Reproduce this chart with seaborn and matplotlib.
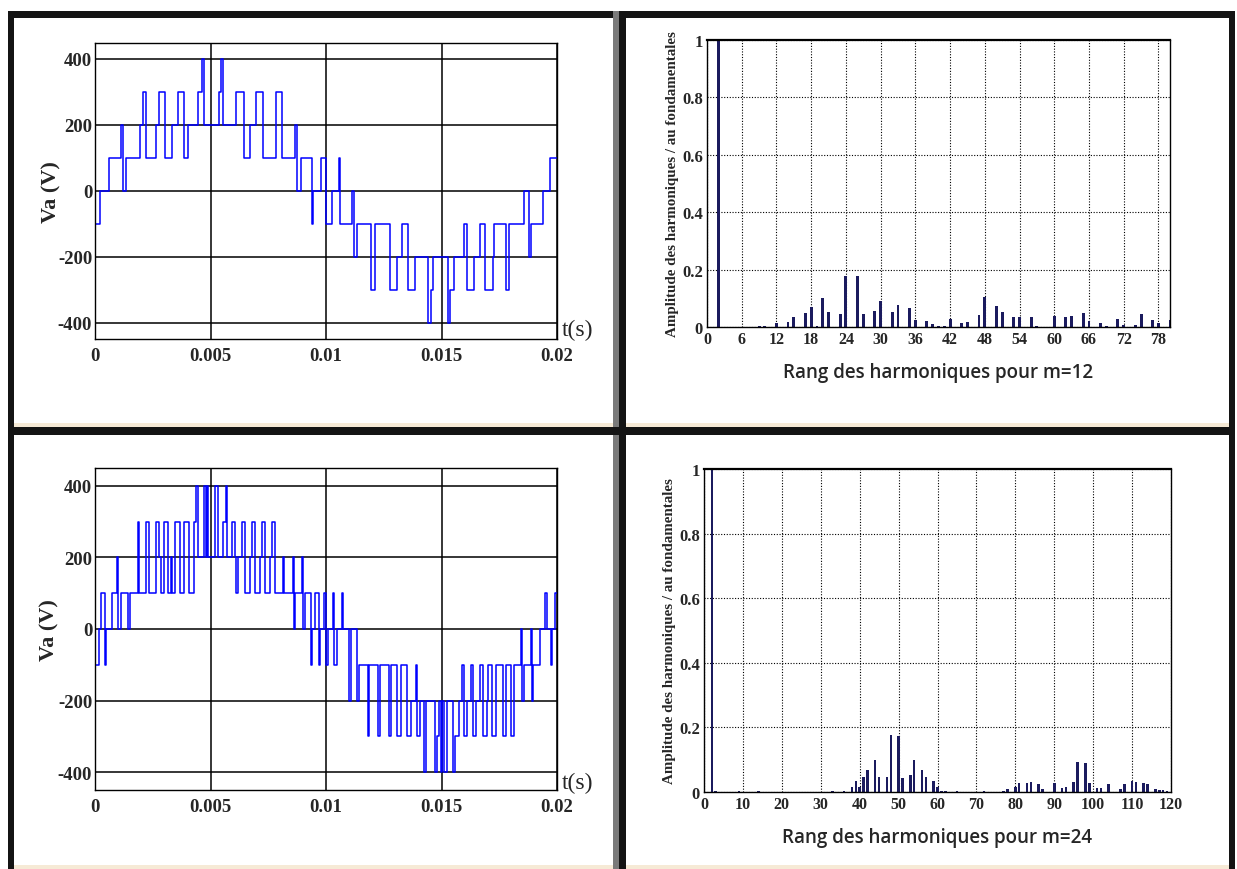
import numpy as np
import pandas as pd
import matplotlib
matplotlib.use("Agg")
import matplotlib.pyplot as plt
from matplotlib.patches import Rectangle
import seaborn as sns

# ---------------- data ----------------
# m = 12 waveform: switching instants (ms) and level held from each instant (V)
WAVE12_T_MS = [0, 0, 0.22, 0.61, 1.14, 1.21, 1.33, 1.95, 2.07, 2.20,
               2.66, 2.79, 3.05, 3.35, 3.60, 3.87, 4.03, 4.45, 4.62, 4.70,
               5.35, 5.46, 5.53, 6.10, 6.46, 6.69, 6.95, 7.27, 7.85, 8.08,
               8.66, 8.76, 8.93, 9.39, 9.45, 9.78,
               10.0, 10.26, 10.55, 10.61, 11.11, 11.22, 11.34, 11.95, 12.13, 12.76,
               13.06, 13.30, 13.55, 13.87, 14.40, 14.54, 14.64, 15.30, 15.37, 15.55,
               15.99, 16.11, 16.41, 16.65, 16.90, 17.21, 17.26, 17.79, 17.93, 18.58,
               18.79, 18.87, 19.38, 19.70, 20.0]
WAVE12_V = [100, -100, 0, 100, 200, 0, 100, 200, 300, 100,
            200, 300, 100, 200, 300, 100, 200, 300, 400, 200,
            300, 400, 200, 300, 100, 200, 300, 100, 300, 100,
            200, 0, 100, -100, 0, 100,
            -100, 0, 100, -100, 0, -200, -100, -300, -100, -300,
            -200, -100, -300, -200, -400, -300, -200, -400, -300, -200,
            -100, -300, -200, -100, -300, -200, -100, -300, -100, 0,
            -200, -100, 0, 100, 100]

# m = 24 waveform
WAVE24_T_MS = [0, 0, 0.17, 0.27, 0.43, 0.49, 0.72, 0.94, 1.01, 1.13,
               1.42, 1.50, 1.85, 1.92, 2.20, 2.34, 2.63, 2.77, 2.85, 2.99,
               3.14, 3.28, 3.35, 3.45, 3.67, 3.86, 4.05, 4.29, 4.39, 4.45,
               4.73, 4.80, 4.84, 4.90, 5.19, 5.32, 5.53, 5.66, 5.73, 5.93,
               6.08, 6.12, 6.18, 6.37, 6.51, 6.72, 6.80, 6.94, 7.16, 7.23,
               7.37, 7.59, 7.66, 7.80, 8.12, 8.17, 8.55, 8.60, 8.66, 8.95,
               9.00, 9.08, 9.35, 9.40, 9.52, 9.71, 9.76, 9.92,
               10.0, 10.10, 10.29, 10.33, 10.47, 10.68, 10.73, 11.01, 11.08, 11.34,
               11.41, 11.80, 11.87, 12.23, 12.34, 12.73, 12.80, 13.09, 13.23, 13.52,
               13.66, 13.88, 13.92, 14.07, 14.24, 14.35, 14.74, 14.81, 14.89, 14.99,
               15.04, 15.10, 15.22, 15.50, 15.57, 15.74, 15.90, 15.96, 16.11, 16.28,
               16.35, 16.51, 16.66, 16.80, 16.95, 17.02, 17.20, 17.38, 17.67, 17.80,
               18.03, 18.14, 18.45, 18.50, 18.57, 18.87, 18.92, 18.97, 19.28, 19.47,
               19.55, 19.74, 19.80, 19.90, 20.0]
WAVE24_V = [100, -100, 0, 100, -100, 0, 100, 200, 0, 100,
            0, 100, 300, 100, 300, 100, 300, 200, 100, 300,
            100, 200, 100, 300, 100, 300, 100, 300, 400, 200,
            400, 200, 400, 200, 400, 200, 300, 400, 200, 300,
            200, 100, 200, 300, 100, 200, 300, 100, 200, 300,
            100, 200, 300, 100, 200, 100, 200, 0, 100, 200,
            0, 100, -100, 0, 100, -100, 0, 100,
            -100, 0, 100, -100, 0, 100, 0, -200, 0, -200,
            -100, -300, -100, -300, -100, -300, -100, -300, -100, -300,
            -200, -100, -300, -200, -400, -200, -400, -300, -200, -400,
            -200, -400, -200, -400, -300, -200, -100, -300, -200, -100,
            -300, -200, -100, -300, -200, -100, -300, -100, -300, -100,
            -300, -100, 0, -200, -100, 0, -200, -100, 0, 100,
            0, -100, 0, 100, 100]

# spectra (rank, amplitude relative to fundamental)
H12_ORDER = [2, 9, 10, 12, 14, 15, 17, 18, 19, 20,
             21, 23, 24, 26, 27, 29, 30, 32, 33, 35,
             36, 38, 39, 40, 41, 42, 44, 45, 47, 48,
             50, 51, 53, 54, 56, 57, 60, 62, 63, 65,
             66, 68, 69, 71, 72, 74, 75, 77, 78, 80]
H12_AMP = [1.0, 0.004, 0.002, 0.015, 0.017, 0.035, 0.05, 0.07, 0.004, 0.10,
           0.053, 0.047, 0.176, 0.176, 0.045, 0.057, 0.09, 0.052, 0.077, 0.066,
           0.023, 0.022, 0.012, 0.003, 0.004, 0.027, 0.015, 0.017, 0.043, 0.104,
           0.072, 0.053, 0.035, 0.035, 0.035, 0.005, 0.04, 0.035, 0.04, 0.05,
           0.021, 0.013, 0.005, 0.027, 0.006, 0.006, 0.044, 0.023, 0.015, 0.023]

H24_ORDER = [2, 3, 9, 14, 33, 36, 38, 39, 40, 41,
             42, 44, 45, 47, 48, 50, 51, 53, 54, 56,
             57, 59, 60, 61, 62, 65, 72, 77, 78, 80,
             81, 83, 84, 86, 87, 90, 92, 93, 95, 96,
             98, 99, 101, 102, 104, 107, 108, 110, 111, 113,
             114, 116, 117, 118, 119]
H24_AMP = [1.0, 0.003, 0.002, 0.002, 0.003, 0.003, 0.016, 0.033, 0.017, 0.047,
           0.068, 0.099, 0.047, 0.045, 0.176, 0.174, 0.044, 0.054, 0.099, 0.068,
           0.047, 0.033, 0.016, 0.004, 0.004, 0.003, 0.002, 0.004, 0.008, 0.016,
           0.029, 0.029, 0.032, 0.026, 0.010, 0.029, 0.013, 0.015, 0.031, 0.092,
           0.089, 0.029, 0.013, 0.013, 0.026, 0.008, 0.026, 0.033, 0.031, 0.029,
           0.024, 0.008, 0.005, 0.005, 0.004]

T_TICKS = [0, 0.005, 0.01, 0.015, 0.02]
T_LABELS = ["0", "0.005", "0.01", "0.015", "0.02"]
V_TICKS = [-400, -200, 0, 200, 400]
V_LABELS = ["-400", "-200", "0", "200", "400"]
A_TICKS = [0, 0.2, 0.4, 0.6, 0.8, 1]
A_LABELS = ["0", "0.2", "0.4", "0.6", "0.8", "1"]
R12_TICKS = list(range(0, 79, 6))
R24_TICKS = list(range(0, 121, 10))

Y_LABEL_WAVE = "Va (V)"
Y_LABEL_SPEC = "Amplitude des harmoniques / au fondamentales"
X_LABEL_12 = "Rang des harmoniques pour m=12"
X_LABEL_24 = "Rang des harmoniques pour m=24"

# ---------------- style ----------------
sns.set_theme(style="white")
plt.rcParams["font.family"] = ["Liberation Serif", "DejaVu Serif"]
plt.rcParams["axes.edgecolor"] = "black"

W, H = 1237, 870
fig = plt.figure(figsize=(W / 100, H / 100), dpi=100)
fig.patch.set_facecolor("white")

def frac(left, top, right, bottom):
    return [left / W, 1 - bottom / H, (right - left) / W, (bottom - top) / H]

ax_w12 = fig.add_axes(frac(95, 43.5, 557, 340))
ax_w24 = fig.add_axes(frac(95, 469, 557, 791))
ax_s12 = fig.add_axes(frac(707, 41, 1170, 328))
ax_s24 = fig.add_axes(frac(704, 470, 1171, 793))

NAVY = "#1b1b5e"
SERIF = ["Liberation Serif", "DejaVu Serif"]
SANS = ["Open Sans", "DejaVu Sans"]

def wave_panel(ax, t_ms, v, tlabel_v, label_x):
    df = pd.DataFrame({"t": np.asarray(t_ms) / 1000.0, "v": v})
    ax.set_axisbelow(True)
    ax.grid(True, color="black", linewidth=1.1, linestyle="-")
    sns.lineplot(data=df, x="t", y="v", drawstyle="steps-post", estimator=None,
                 sort=False, color="#0000ff", linewidth=1.1, ax=ax)
    ax.set_xlim(0, 0.02)
    ax.set_ylim(-450, 450)
    ax.set_xticks(T_TICKS)
    ax.set_xticklabels(T_LABELS, fontsize=13.5, fontweight="bold", family=SERIF)
    ax.set_yticks(V_TICKS)
    ax.set_yticklabels(V_LABELS, fontsize=13.5, fontweight="bold", family=SERIF)
    ax.tick_params(axis="x", direction="in", length=3, width=0.8, color="black", pad=6)
    ax.tick_params(axis="y", direction="in", length=3, width=0.8, color="black", pad=2)
    ax.set_xlabel("")
    ax.set_ylabel(Y_LABEL_WAVE, fontsize=16, fontweight="bold", family=SERIF)
    ax.yaxis.set_label_coords(label_x, 0.5)
    for s in ax.spines.values():
        s.set_color("black")
        s.set_linewidth(1.0)
    ax.text(1.01, tlabel_v, "t(s)", transform=ax.get_yaxis_transform(),
            fontsize=17, family=SERIF, va="center", ha="left")

def spec_panel(ax, orders, amps, xmax, xticks, xlabel, shrink):
    ax.set_axisbelow(True)
    ax.grid(True, color="black", linewidth=0.8, linestyle=(0, (1, 1.5)))
    sns.histplot(x=orders, weights=amps, discrete=True, shrink=shrink, color=NAVY,
                 edgecolor=NAVY, linewidth=0, alpha=1.0, ax=ax)
    ax.set_xlim(0, xmax)
    ax.set_ylim(0, 1)
    ax.set_xticks(xticks)
    ax.set_xticklabels([str(x) for x in xticks], fontsize=11.5, fontweight="bold", family=SERIF)
    ax.set_yticks(A_TICKS)
    ax.set_yticklabels(A_LABELS, fontsize=12, fontweight="bold", family=SERIF)
    ax.tick_params(axis="both", direction="in", length=3, width=0.8, color="black", pad=3)
    ax.set_ylabel(Y_LABEL_SPEC, fontsize=10.8, fontweight="bold", family=SERIF, labelpad=2)
    ax.set_xlabel(xlabel, fontsize=13.5, fontweight="semibold", family=SANS, labelpad=11)
    for s in ax.spines.values():
        s.set_color("black")
        s.set_linewidth(1.0)
    ax.spines["top"].set_linewidth(1.6)

wave_panel(ax_w12, WAVE12_T_MS, WAVE12_V, -420, -0.072)
wave_panel(ax_w24, WAVE24_T_MS, WAVE24_V, -430, -0.076)
spec_panel(ax_s12, H12_ORDER, H12_AMP, 80, R12_TICKS, X_LABEL_12, 0.5)
spec_panel(ax_s24, H24_ORDER, H24_AMP, 120, R24_TICKS, X_LABEL_24, 0.65)

# ---------------- panel frames ----------------
def px_rect(x0, y0, x1, y1, color):
    fig.patches.append(Rectangle((x0 / W, 1 - y1 / H), (x1 - x0) / W, (y1 - y0) / H,
                                 transform=fig.transFigure, facecolor=color,
                                 edgecolor="none", zorder=10))

px_rect(8, 424, 1235, 428, "#f6ead6")
px_rect(8, 866, 1235, 870, "#f6ead6")
px_rect(8, 12, 1235, 19, "#141414")
px_rect(8, 12, 14, 870, "#141414")
px_rect(1229, 12, 1235, 870, "#141414")
px_rect(613, 12, 619, 870, "#7a7a7a")
px_rect(619, 12, 626, 870, "#141414")
px_rect(8, 428, 1235, 436, "#141414")

fig.savefig("out.png", dpi=100, facecolor="white")
